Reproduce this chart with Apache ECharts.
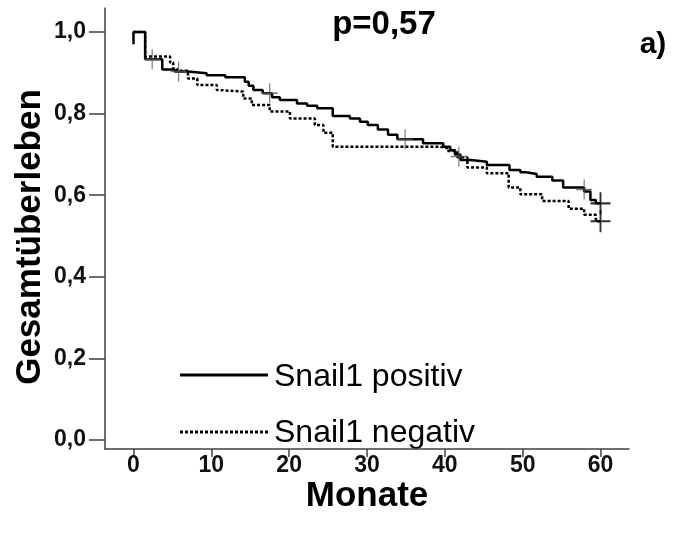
<!DOCTYPE html>
<html>
<head>
<meta charset="utf-8">
<script src="https://cdn.jsdelivr.net/npm/echarts@6/dist/echarts.min.js"></script>
<style>
  html, body { margin: 0; padding: 0; background: #fff; }
  #chart { width: 699px; height: 533px; }
</style>
</head>
<body>
<div id="chart"></div>
<script>
// Kaplan-Meier step data: event time (months) and survival after that event
const posTimes = [0, 0, 1.5, 3.7, 5.3, 7.0, 9.4, 11.8, 14.3, 14.8, 15.4, 16.6, 17.8, 18.8, 21.0, 22.3, 23.6, 25.6, 27.8, 29.1, 30.1, 31.4, 32.7, 33.9, 37.2, 39.8, 40.7, 41.3, 42.0, 43.3, 45.4, 48.3, 49.7, 50.4, 51.8, 53.8, 55.2, 57.9, 58.7, 59.4, 60.0];
const posSurv  = [0.97, 1.0, 0.933, 0.908, 0.903, 0.899, 0.894, 0.889, 0.878, 0.868, 0.858, 0.85, 0.84, 0.833, 0.825, 0.819, 0.813, 0.794, 0.788, 0.78, 0.772, 0.761, 0.748, 0.737, 0.727, 0.719, 0.71, 0.70, 0.686, 0.682, 0.674, 0.662, 0.656, 0.652, 0.645, 0.636, 0.619, 0.609, 0.588, 0.58, 0.58];

const negTimes = [0, 1.5, 4.7, 5.1, 5.6, 7.0, 8.2, 10.7, 10.9, 14.1, 15.2, 17.5, 20.1, 23.3, 24.4, 25.6, 39.4, 40.3, 41.6, 42.9, 45.4, 48.2, 49.7, 52.5, 55.9, 57.9, 59.4, 60.0];
const negSurv  = [1.0, 0.94, 0.925, 0.91, 0.905, 0.886, 0.87, 0.858, 0.854, 0.837, 0.821, 0.805, 0.788, 0.772, 0.753, 0.719, 0.715, 0.708, 0.693, 0.668, 0.654, 0.619, 0.602, 0.586, 0.567, 0.552, 0.536, 0.536];

// censored observations
const midCensT = [2.4, 5.8, 17.5, 34.9, 41.8, 57.9];
const midCensS = [0.933, 0.903, 0.85, 0.737, 0.695, 0.614];
const endCensT = [60.0, 60.0];
const endCensS = [0.58, 0.536];

const xTicks = [0, 10, 20, 30, 40, 50, 60];
const yTicks = [0, 0.2, 0.4, 0.6, 0.8, 1.0];

const zip = (a, b) => a.map((v, i) => [v, b[i]]);
const FONT = '"Liberation Sans", Arial, sans-serif';
const plus = 'path://M0,-10L0,10M-10,0L10,0';

const chart = echarts.init(document.getElementById('chart'), null, { renderer: 'canvas' });

chart.setOption({
  backgroundColor: '#ffffff',
  animation: false,
  grid: { left: 105, right: 70, top: 8, bottom: 84, containLabel: false },
  xAxis: {
    type: 'value',
    min: -3.66, max: 63.66,
    axisLine: { show: true, onZero: false, lineStyle: { color: '#404040', width: 1.5 } },
    axisTick: { show: true, customValues: xTicks, length: 8, lineStyle: { color: '#404040', width: 1.5 } },
    axisLabel: {
      customValues: xTicks, margin: 5, color: '#111',
      fontFamily: FONT, fontWeight: 'bold', fontSize: 23
    },
    splitLine: { show: false }
  },
  yAxis: {
    type: 'value',
    min: -0.0221, max: 1.0588,
    axisLine: { show: true, onZero: false, lineStyle: { color: '#404040', width: 1.5 } },
    axisTick: { show: true, customValues: yTicks, length: 16, lineStyle: { color: '#404040', width: 1.5 } },
    axisLabel: {
      customValues: yTicks, margin: 19, color: '#111',
      fontFamily: FONT, fontWeight: 'bold', fontSize: 23,
      formatter: v => v.toFixed(1).replace('.', ',')
    },
    splitLine: { show: false }
  },
  series: [
    {
      name: 'Snail1 positiv', type: 'line', step: 'end', showSymbol: false,
      data: zip(posTimes, posSurv),
      lineStyle: { color: '#000', width: 2.5 }, z: 3
    },
    {
      name: 'Snail1 negativ', type: 'line', step: 'end', showSymbol: false,
      data: zip(negTimes, negSurv),
      lineStyle: { color: '#000', width: 2.5, type: [3, 2] }, z: 2
    },
    {
      type: 'scatter', data: zip(midCensT, midCensS),
      symbol: plus, symbolSize: [16, 20],
      itemStyle: { color: 'none', borderColor: '#555', borderWidth: 1.3 }, z: 4
    },
    {
      type: 'scatter', data: zip(endCensT, endCensS),
      symbol: plus, symbolSize: [20, 22],
      itemStyle: { color: 'none', borderColor: '#000', borderWidth: 2 }, z: 4
    }
  ],
  graphic: [
    { type: 'text', x: 384, y: 25, style: { text: 'p=0,57', font: 'bold 33px ' + FONT, fill: '#000', align: 'center', verticalAlign: 'middle' } },
    { type: 'text', x: 653, y: 45, style: { text: 'a)', font: 'bold 30px ' + FONT, fill: '#000', align: 'center', verticalAlign: 'middle' } },
    { type: 'text', x: 30, y: 237, rotation: Math.PI / 2,
      style: { text: 'Gesamtüberleben', font: 'bold 35px ' + FONT, fill: '#000', align: 'center', verticalAlign: 'middle' } },
    { type: 'text', x: 367, y: 496,
      style: { text: 'Monate', font: 'bold 35px ' + FONT, fill: '#000', align: 'center', verticalAlign: 'middle' } },
    { type: 'line', shape: { x1: 180, y1: 375, x2: 268, y2: 375 }, style: { stroke: '#000', lineWidth: 3 } },
    { type: 'text', x: 274, y: 377, style: { text: 'Snail1 positiv', font: '32px ' + FONT, fill: '#000', verticalAlign: 'middle' } },
    { type: 'line', shape: { x1: 180, y1: 432, x2: 268, y2: 432 }, style: { stroke: '#000', lineWidth: 3, lineDash: [3, 2] } },
    { type: 'text', x: 274, y: 433, style: { text: 'Snail1 negativ', font: '32px ' + FONT, fill: '#000', verticalAlign: 'middle' } }
  ]
});
</script>
</body>
</html>
